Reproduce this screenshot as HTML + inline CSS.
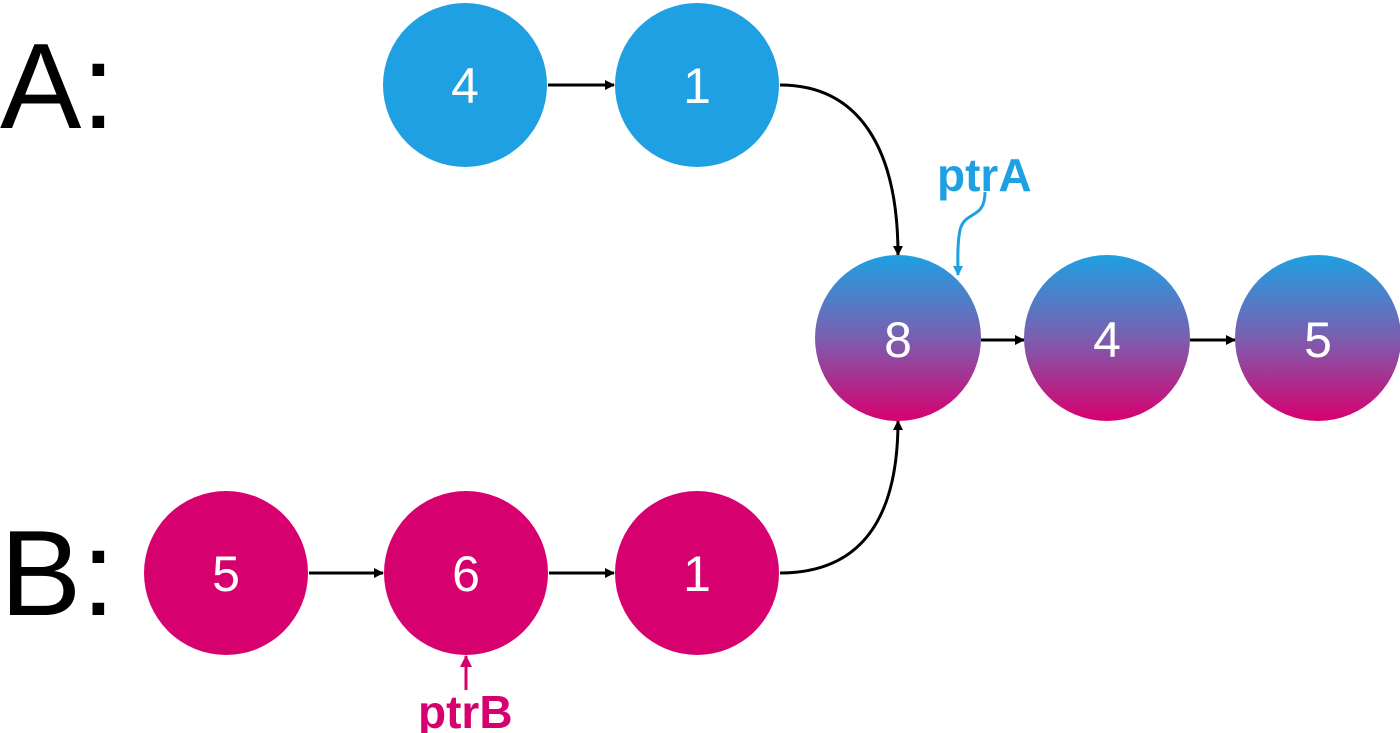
<!DOCTYPE html>
<html><head><style>
html,body{margin:0;padding:0;background:#fff;}
svg{display:block;}
</style></head><body>
<svg width="1400" height="733" viewBox="0 0 1400 733" xmlns="http://www.w3.org/2000/svg">
<defs>
<linearGradient id="g" x1="0" y1="0" x2="0" y2="1">
<stop offset="0" stop-color="#1ea0e2"/>
<stop offset="0.5" stop-color="#7a5fb0"/>
<stop offset="1" stop-color="#d8006f"/>
</linearGradient>
<marker id="ak" markerWidth="10" markerHeight="10" refX="9" refY="5" orient="auto" markerUnits="userSpaceOnUse"><path d="M0,0 L10,5 L0,10 z" fill="#000"/></marker>
<marker id="ab" markerWidth="10" markerHeight="10" refX="9" refY="5" orient="auto" markerUnits="userSpaceOnUse"><path d="M0,0 L10,5 L0,10 z" fill="#1ea0e2"/></marker>
<marker id="am" markerWidth="12" markerHeight="12" refX="11" refY="6" orient="auto" markerUnits="userSpaceOnUse"><path d="M0,0 L12,6 L0,12 z" fill="#d6006f"/></marker>
</defs>
<g font-family="Liberation Sans, sans-serif">
<text x="0" y="128" font-size="122" fill="#000">A:</text>
<text x="0" y="615" font-size="122" fill="#000">B:</text>
<g stroke="#000" stroke-width="3" fill="none">
<line x1="548" y1="85" x2="614" y2="85" marker-end="url(#ak)"/>
<path d="M780,85 C860,85 898,150 898,255" marker-end="url(#ak)"/>
<path d="M780,573 C860,573 898,520 898,421" marker-end="url(#ak)"/>
<line x1="309" y1="573" x2="383" y2="573" marker-end="url(#ak)"/>
<line x1="549" y1="573" x2="614" y2="573" marker-end="url(#ak)"/>
<line x1="981" y1="340" x2="1024" y2="340" marker-end="url(#ak)"/>
<line x1="1190" y1="340" x2="1235" y2="340" marker-end="url(#ak)"/>
</g>
<path d="M985,192 C985,220 965,210 960,230 C957,245 958,262 958,275" stroke="#1ea0e2" stroke-width="3" fill="none" marker-end="url(#ab)"/>
<line x1="466" y1="690" x2="466" y2="656" stroke="#d6006f" stroke-width="3" marker-end="url(#am)"/>
<g fill="#1ea0e2"><circle cx="465" cy="85" r="82"/><circle cx="697" cy="85" r="82"/></g>
<g fill="#d6006f"><circle cx="226" cy="573" r="82"/><circle cx="466" cy="573" r="82"/><circle cx="697" cy="573" r="82"/></g>
<g fill="url(#g)"><circle cx="898" cy="338" r="83"/><circle cx="1107" cy="338" r="83"/><circle cx="1318" cy="338" r="83"/></g>
<g fill="#fff" font-size="50" text-anchor="middle">
<text x="465" y="103">4</text><text x="697" y="103">1</text>
<text x="226" y="591">5</text><text x="466" y="591">6</text><text x="697" y="591">1</text>
<text x="898" y="357">8</text><text x="1107" y="357">4</text><text x="1318" y="357">5</text>
</g>
<text x="937" y="191" font-size="46" font-weight="bold" fill="#1ea0e2">ptrA</text>
<text x="418" y="728" font-size="46" font-weight="bold" fill="#d6006f">ptrB</text>
</g>
</svg>
</body></html>
